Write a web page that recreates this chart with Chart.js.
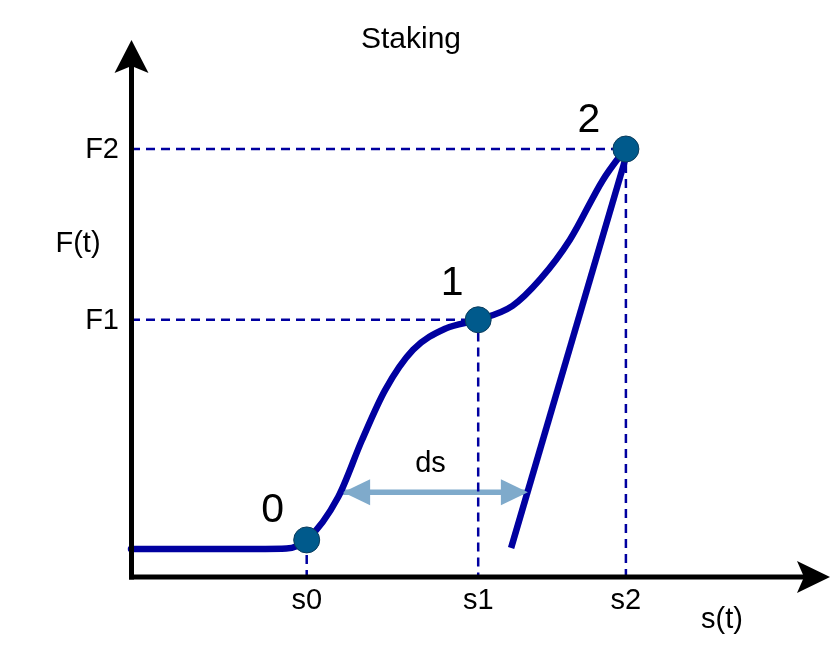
<!DOCTYPE html>
<html>
<head>
<meta charset="utf-8">
<script src="https://cdn.jsdelivr.net/npm/chart.js@4/dist/chart.umd.min.js"></script>
<style>
  html, body { margin: 0; padding: 0; background: #ffffff; }
  #wrap { width: 832px; height: 658px; position: relative; }
</style>
</head>
<body>
<div id="wrap"><canvas id="c" width="832" height="658"></canvas></div>
<script>
// ---- data (arbitrary schematic units) ----
const titleText = 'Staking';
const axisTitleS = 's(t)';
const axisTitleF = 'F(t)';
const dsLabel = 'ds';

const tickLabelsS = ['s0', 's1', 's2'];
const tickLabelsF = ['F1', 'F2'];
const pointLabels = ['0', '1', '2'];

const pointS = [2.51, 4.96, 7.07];
const pointF = [0.69, 4.79, 7.97];

const curveS = [0, 1.50, 2.22, 2.51, 2.96, 3.30, 3.63, 4.03, 4.50, 4.96, 5.45, 5.85, 6.27, 6.74, 7.07];
const curveF = [0.52, 0.52, 0.53, 0.69, 1.49, 2.55, 3.48, 4.23, 4.63, 4.79, 5.05, 5.55, 6.28, 7.39, 7.99];

const tangentS = [7.10, 5.43];
const tangentF = [7.95, 0.54];

const dsS = [3.03, 5.67];
const dsF = [1.58, 1.58];

// ---- build datasets ----
const xy = (xs, ys) => xs.map((x, i) => ({ x: x, y: ys[i] }));

const DARK = '#0000a0';
const POINT = '#005a8c';
const LIGHT = '#7faacb';
const FONT = '"Liberation Sans", Arial, Helvetica, sans-serif';

const datasets = [
  {
    label: 'points', data: xy(pointS, pointF), showLine: false,
    pointRadius: 13, pointBackgroundColor: POINT, pointBorderColor: '#0a3b5c',
    pointBorderWidth: 1, order: 0
  },
  {
    label: 'curve', data: xy(curveS, curveF), borderColor: DARK, borderWidth: 6.5,
    cubicInterpolationMode: 'monotone', pointRadius: 0, borderCapStyle: 'round', order: 1
  },
  {
    label: 'tangent', data: xy(tangentS, tangentF), borderColor: DARK, borderWidth: 6.5,
    pointRadius: 0, borderCapStyle: 'butt', order: 1
  },
  {
    label: 'F2 guide', data: [{ x: 0, y: pointF[2] }, { x: pointS[2], y: pointF[2] }, { x: pointS[2], y: 0 }],
    borderColor: DARK, borderWidth: 2.5, borderDash: [9, 6], pointRadius: 0, tension: 0, order: 2
  },
  {
    label: 'F1 guide', data: [{ x: 0, y: pointF[1] }, { x: pointS[1], y: pointF[1] }, { x: pointS[1], y: 0 }],
    borderColor: DARK, borderWidth: 2.5, borderDash: [9, 6], pointRadius: 0, tension: 0, order: 2
  },
  {
    label: 's0 guide', data: [{ x: pointS[0], y: pointF[0] }, { x: pointS[0], y: 0 }],
    borderColor: DARK, borderWidth: 2.5, borderDash: [9, 6], pointRadius: 0, tension: 0, order: 2
  },
  {
    label: 'ds', data: xy(dsS, dsF), borderColor: LIGHT, borderWidth: 5.5,
    pointRadius: 0, tension: 0, order: 3
  }
];

// ---- decorations plugin ----
const decor = {
  id: 'decor',
  afterDatasetsDraw(chart) {
    const ctx = chart.ctx;
    const xs = chart.scales.x, ys = chart.scales.y;
    const x0 = xs.getPixelForValue(0), y0 = ys.getPixelForValue(0);
    const xEnd = xs.getPixelForValue(xs.max), yEnd = ys.getPixelForValue(ys.max);
    ctx.save();
    // ds arrow heads
    const dsY = ys.getPixelForValue(dsF[0]);
    const dl = xs.getPixelForValue(dsS[0]), dr = xs.getPixelForValue(dsS[1]);
    ctx.fillStyle = LIGHT;
    ctx.beginPath();
    ctx.moveTo(dl, dsY); ctx.lineTo(dl + 27, dsY - 13); ctx.lineTo(dl + 27, dsY + 13); ctx.closePath(); ctx.fill();
    ctx.beginPath();
    ctx.moveTo(dr, dsY); ctx.lineTo(dr - 27, dsY - 13); ctx.lineTo(dr - 27, dsY + 13); ctx.closePath(); ctx.fill();

    // axes
    ctx.strokeStyle = '#000';
    ctx.fillStyle = '#000';
    ctx.lineWidth = 5;
    ctx.lineCap = 'butt';
    ctx.beginPath();
    ctx.moveTo(x0 + 0.5, y0 + 2.5);
    ctx.lineTo(x0 + 0.5, yEnd + 20);
    ctx.stroke();
    ctx.beginPath();
    ctx.moveTo(x0 - 2, y0);
    ctx.lineTo(xEnd - 20, y0);
    ctx.stroke();
    // y arrow head
    ctx.beginPath();
    ctx.moveTo(x0 + 0.5, yEnd);
    ctx.lineTo(x0 + 17.5, yEnd + 33);
    ctx.lineTo(x0 + 0.5, yEnd + 26);
    ctx.lineTo(x0 - 16.5, yEnd + 33);
    ctx.closePath(); ctx.fill();
    // x arrow head
    ctx.beginPath();
    ctx.moveTo(xEnd - 1, y0);
    ctx.lineTo(xEnd - 34, y0 - 16);
    ctx.lineTo(xEnd - 27, y0);
    ctx.lineTo(xEnd - 34, y0 + 16);
    ctx.closePath(); ctx.fill();
    ctx.restore();
  },
  afterDraw(chart) {
    const ctx = chart.ctx;
    const xs = chart.scales.x, ys = chart.scales.y;
    const x0 = xs.getPixelForValue(0), y0 = ys.getPixelForValue(0);
    ctx.save();
    ctx.fillStyle = '#000';
    ctx.textBaseline = 'middle';
    // title
    ctx.font = '30px ' + FONT;
    ctx.textAlign = 'center';
    ctx.fillText(titleText, 411, 40);
    // s ticks
    ctx.font = '29px ' + FONT;
    tickLabelsS.forEach((t, i) => ctx.fillText(t, xs.getPixelForValue(pointS[i]), y0 + 24));
    // F ticks
    ctx.textAlign = 'right';
    tickLabelsF.forEach((t, i) => ctx.fillText(t, x0 - 12, ys.getPixelForValue(pointF[i + 1]) + 1));
    // axis titles
    ctx.textAlign = 'center';
    ctx.fillText(axisTitleF, 78, 244);
    ctx.fillText(axisTitleS, 722, 620);
    // ds label
    ctx.fillText(dsLabel, (xs.getPixelForValue(dsS[0]) + xs.getPixelForValue(dsS[1])) / 2 - 5, ys.getPixelForValue(dsF[0]) - 28);
    // point labels
    ctx.font = '41px ' + FONT;
    const offs = [[-34, -29], [-26, -36], [-37, -28]];
    pointLabels.forEach((t, i) => {
      ctx.fillText(t, xs.getPixelForValue(pointS[i]) + offs[i][0], ys.getPixelForValue(pointF[i]) + offs[i][1]);
    });
    ctx.restore();
  }
};

new Chart(document.getElementById('c'), {
  type: 'line',
  data: { datasets: datasets },
  options: {
    responsive: false,
    animation: false,
    events: [],
    devicePixelRatio: 1,
    layout: { autoPadding: false, padding: { left: 131, top: 40, right: 1, bottom: 81 } },
    scales: {
      x: { type: 'linear', min: 0, max: 10, display: false },
      y: { type: 'linear', min: 0, max: 10, display: false }
    },
    elements: { line: { fill: false } },
    datasets: { line: { clip: false } },
    plugins: { legend: { display: false }, tooltip: { enabled: false }, title: { display: false } }
  },
  plugins: [decor]
});
</script>
</body>
</html>
